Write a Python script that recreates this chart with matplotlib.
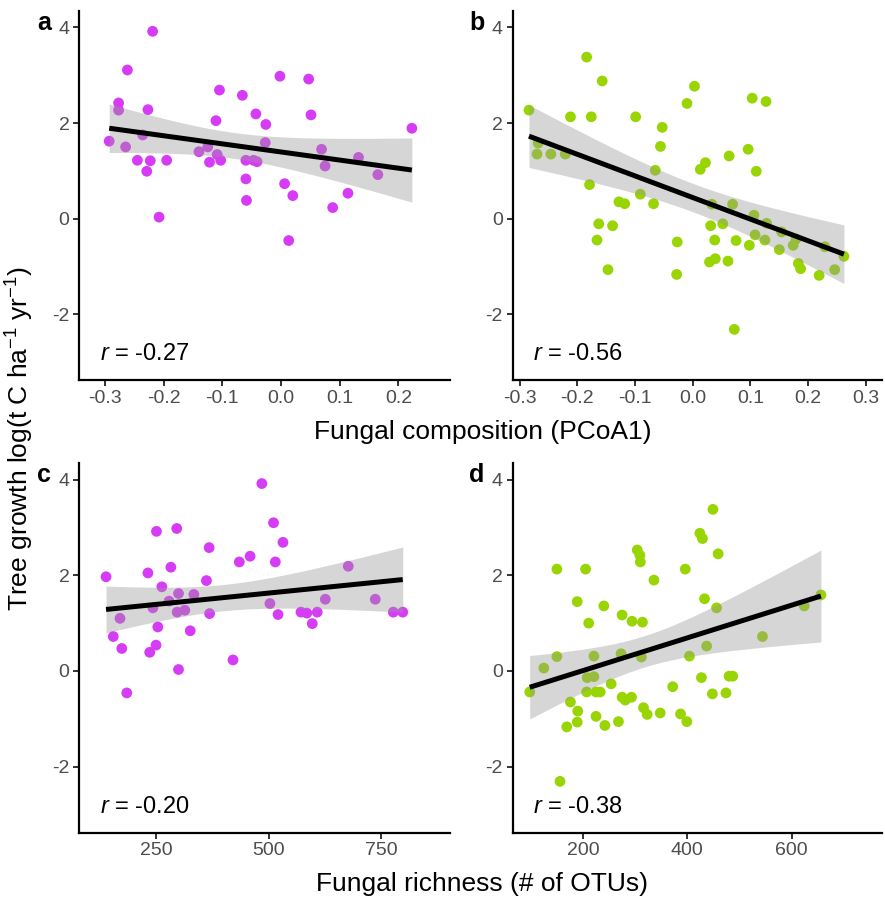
import numpy as np
import matplotlib
matplotlib.use("Agg")
import matplotlib.pyplot as plt

plt.rcParams['font.family'] = ['Liberation Sans', 'DejaVu Sans']
plt.rcParams['mathtext.fontset'] = 'custom'
plt.rcParams['mathtext.rm'] = 'Liberation Sans'
plt.rcParams['mathtext.it'] = 'Liberation Sans:italic'

PURPLE = '#d63cf5'
GREEN = '#98d503'

# panel a: fungal composition vs growth (purple)
a_x = [-0.219, -0.262, -0.277, -0.277, -0.227, -0.293, -0.265, -0.236, -0.245, -0.223,
       -0.229, -0.195, -0.208, -0.105, -0.111, -0.140, -0.125, -0.109, -0.122, -0.103,
       -0.066, -0.043, -0.026, -0.027, -0.060, -0.047, -0.041, -0.060, -0.059, -0.002,
       0.047, 0.051, 0.006, 0.020, 0.013, 0.069, 0.075, 0.132, 0.114, 0.088, 0.165, 0.223]
a_y = [3.92, 3.11, 2.42, 2.27, 2.28, 1.62, 1.50, 1.75, 1.22, 1.21,
       0.99, 1.22, 0.03, 2.69, 2.05, 1.40, 1.50, 1.34, 1.18, 1.22,
       2.58, 2.19, 1.97, 1.59, 1.22, 1.22, 1.19, 0.83, 0.38, 2.98,
       2.92, 2.17, 0.73, 0.48, -0.46, 1.45, 1.10, 1.28, 0.53, 0.23, 0.92, 1.89]

# panel b: fungal composition vs growth (green)
b_x = [-0.184, -0.157, 0.003, -0.010, 0.103, 0.127, -0.284, -0.212, -0.176, -0.099,
       -0.053, -0.056, -0.268, -0.270, -0.246, -0.221, 0.096, 0.063, 0.022, 0.013,
       0.110, -0.065, -0.179, -0.091, -0.128, -0.118, -0.068, 0.033, 0.069, 0.106,
       0.052, 0.031, 0.128, 0.154, 0.108, -0.163, -0.139, -0.166, -0.027, 0.038,
       0.075, 0.125, 0.098, 0.179, 0.174, 0.150, 0.229, 0.262, 0.029, 0.039,
       0.061, 0.183, 0.187, 0.219, 0.246, -0.147, -0.028, 0.072]
b_y = [3.38, 2.88, 2.77, 2.41, 2.52, 2.45, 2.27, 2.13, 2.13, 2.13,
       1.91, 1.51, 1.58, 1.35, 1.35, 1.35, 1.45, 1.31, 1.17, 1.03,
       0.99, 1.01, 0.71, 0.51, 0.35, 0.31, 0.31, 0.30, 0.30, 0.07,
       -0.11, -0.15, -0.10, -0.28, -0.34, -0.11, -0.15, -0.45, -0.49, -0.45,
       -0.46, -0.45, -0.56, -0.43, -0.56, -0.65, -0.59, -0.79, -0.91, -0.84,
       -0.89, -0.94, -1.05, -1.19, -1.07, -1.07, -1.17, -2.32]

# panel c: fungal richness vs growth (purple)
c_x = [485, 511, 532, 251, 296, 368, 435, 459, 515, 139,
       232, 283, 362, 263, 677, 279, 243, 300, 334, 297,
       314, 369, 170, 254, 326, 155, 174, 250, 236, 300,
       185, 421, 503, 521, 572, 585, 608, 597, 626, 737, 777, 798]
c_y = [3.92, 3.10, 2.69, 2.92, 2.98, 2.58, 2.28, 2.40, 2.28, 1.97,
       2.05, 2.17, 1.89, 1.76, 2.19, 1.46, 1.32, 1.62, 1.60, 1.23,
       1.27, 1.20, 1.10, 0.92, 0.84, 0.72, 0.47, 0.54, 0.39, 0.03,
       -0.46, 0.23, 1.41, 1.18, 1.23, 1.21, 1.23, 0.99, 1.50, 1.50, 1.23, 1.23]

# panel d: fungal richness vs growth (green)
d_x = [449, 424, 429, 459, 304, 309, 310, 150, 205, 396,
       336, 189, 240, 433, 456, 275, 294, 314, 211, 624,
       656, 544, 437, 150, 221, 273, 312, 404, 125, 98,
       208, 221, 254, 207, 225, 233, 176, 190, 189, 169,
       225, 242, 268, 275, 281, 293, 316, 323, 348, 372,
       387, 399, 427, 448, 474, 480, 487, 156]
d_y = [3.38, 2.88, 2.77, 2.45, 2.53, 2.42, 2.28, 2.13, 2.13, 2.13,
       1.90, 1.45, 1.36, 1.51, 1.32, 1.17, 1.04, 1.02, 1.00, 1.36,
       1.59, 0.72, 0.52, 0.30, 0.31, 0.36, 0.29, 0.31, 0.06, -0.44,
       -0.14, -0.12, -0.27, -0.44, -0.44, -0.44, -0.65, -0.84, -1.07, -1.17,
       -0.95, -1.14, -1.06, -0.55, -0.61, -0.55, -0.77, -0.91, -0.88, -0.33,
       -0.90, -1.06, -0.14, -0.48, -0.46, -0.11, -0.11, -2.31]

panels = [
    ('a', a_x, a_y, PURPLE, '-0.27', (-0.344, 0.288), [-0.3, -0.2, -0.1, 0.0, 0.1, 0.2], '%.1f'),
    ('b', b_x, b_y, GREEN, '-0.56', (-0.3125, 0.328), [-0.3, -0.2, -0.1, 0.0, 0.1, 0.2, 0.3], '%.1f'),
    ('c', c_x, c_y, PURPLE, '-0.20', (79.6, 903), [250, 500, 750], '%d'),
    ('d', d_x, d_y, GREEN, '-0.38', (65, 773), [200, 400, 600], '%d'),
]
boxes = [
    [0.0896, 0.5801, 0.4189, 0.408],
    [0.5791, 0.5801, 0.4175, 0.408],
    [0.0896, 0.0801, 0.4189, 0.4083],
    [0.5791, 0.0801, 0.4175, 0.4083],
]


def fit_ci(x, y, n=100):
    x = np.asarray(x, float)
    y = np.asarray(y, float)
    k = len(x)
    slope, icpt = np.polyfit(x, y, 1)
    res = y - (slope * x + icpt)
    s = np.sqrt(np.sum(res ** 2) / (k - 2))
    xs = np.linspace(x.min(), x.max(), n)
    ys = slope * xs + icpt
    se = s * np.sqrt(1.0 / k + (xs - x.mean()) ** 2 / np.sum((x - x.mean()) ** 2))
    t = 2.02  # ~t(0.975, n-2)
    return xs, ys, ys - t * se, ys + t * se


fig = plt.figure(figsize=(8.85, 9.05), dpi=100)
for (lab, x, y, col, r, xlim, xt, fmt), box in zip(panels, boxes):
    ax = fig.add_axes(box)
    ax.scatter(x, y, s=60, color=col, edgecolors='none', zorder=2)
    xs, ys, lo, hi = fit_ci(x, y)
    ax.fill_between(xs, lo, hi, color='#999999', alpha=0.4, lw=0, zorder=3)
    ax.plot(xs, ys, color='black', lw=3.6, zorder=4, solid_capstyle='butt')
    ax.set_xlim(*xlim)
    ax.set_ylim(-3.38, 4.35)
    ax.set_xticks(xt)
    ax.set_xticklabels([fmt % v for v in xt])
    ax.set_yticks([-2, 0, 2, 4])
    ax.set_yticklabels(['-2', '0', '2', '4'])
    for s in ['top', 'right']:
        ax.spines[s].set_visible(False)
    for s in ['left', 'bottom']:
        ax.spines[s].set_linewidth(1.6)
    ax.tick_params(direction='out', length=4, width=1.4, colors='#333333',
                   labelcolor='#4d4d4d', labelsize=14, pad=3)
    ax.text(0.055, 0.04, '$r$ = ' + r, transform=ax.transAxes, fontsize=17,
            ha='left', va='bottom')
    fig.text(box[0] - 0.04, box[1] + box[3] - 0.013, lab, fontsize=18,
             fontweight='bold', ha='center', va='center')

fig.text(0.545, 0.523, 'Fungal composition (PCoA1)', fontsize=19, ha='center', va='center')
fig.text(0.545, 0.023, 'Fungal richness (# of OTUs)', fontsize=19, ha='center', va='center')
fig.text(0.023, 0.515, 'Tree growth log(t C ha$^{-1}$ yr$^{-1}$)', fontsize=19,
         rotation=90, ha='center', va='center')

fig.savefig('out.png', dpi=100)
